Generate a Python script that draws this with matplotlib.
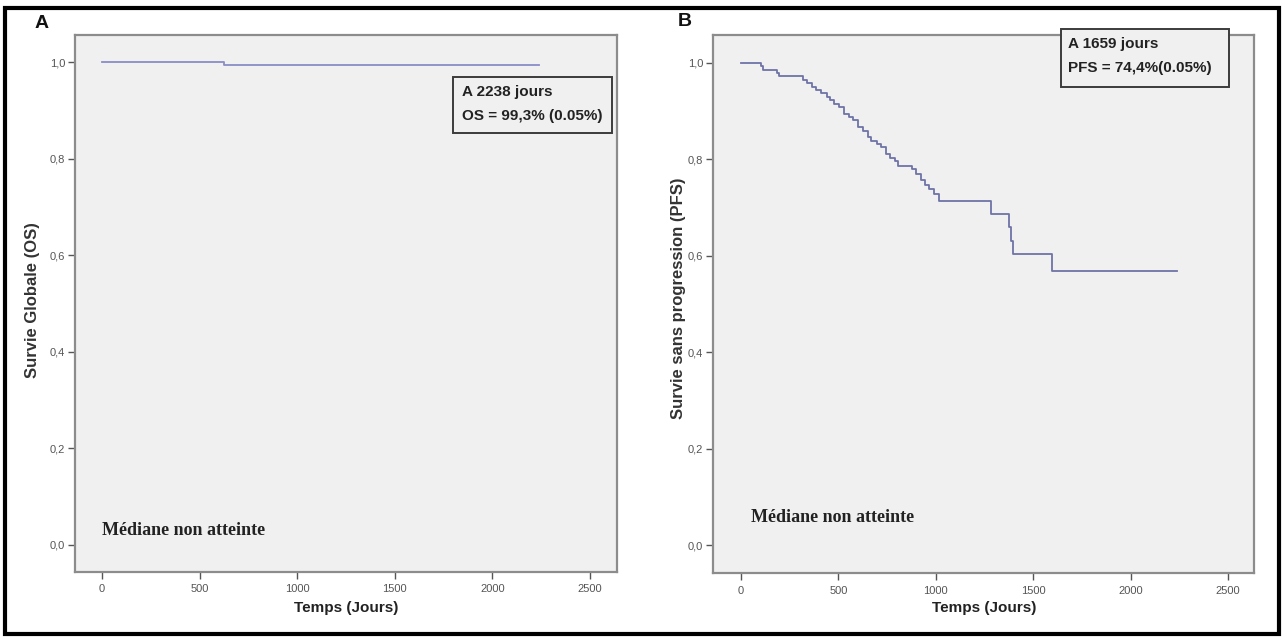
import matplotlib
matplotlib.use('Agg')
import matplotlib.pyplot as plt
from matplotlib.patches import Rectangle
from matplotlib.ticker import FuncFormatter

# Kaplan-Meier survie globale (jours, survie)
os_days = [0, 625, 2238]
os_surv = [1.0, 0.993, 0.993]

# Kaplan-Meier survie sans progression
pfs_days = [0, 105, 115, 185, 195, 320, 340, 365, 385, 410, 440, 455, 480, 505,
            530, 555, 575, 600, 625, 650, 670, 700, 720, 745, 765, 790, 805, 880,
            900, 925, 945, 965, 990, 1015, 1285, 1378, 1386, 1398, 1595, 2240]
pfs_surv = [1.0, 0.993, 0.986, 0.979, 0.972, 0.965, 0.958, 0.951, 0.944, 0.937,
            0.930, 0.923, 0.916, 0.909, 0.895, 0.888, 0.881, 0.867, 0.860, 0.846,
            0.839, 0.832, 0.825, 0.811, 0.804, 0.797, 0.787, 0.780, 0.769, 0.758,
            0.748, 0.738, 0.728, 0.714, 0.687, 0.660, 0.632, 0.604, 0.569, 0.569]

y_ticks = [0.0, 0.2, 0.4, 0.6, 0.8, 1.0]
x_ticks = [0, 500, 1000, 1500, 2000, 2500]

W, H = 1284, 641
NARROW = ['Liberation Sans Narrow', 'Liberation Sans', 'DejaVu Sans']
SANS = ['Liberation Sans', 'DejaVu Sans']
SERIF = ['Liberation Serif', 'DejaVu Serif']

fig = plt.figure(figsize=(W / 100, H / 100), dpi=100)
fig.patch.set_facecolor('white')


def px_axes(l, t, r, b):
    return fig.add_axes([l / W, 1 - b / H, (r - l) / W, (b - t) / H])


def fx(x):
    return x / W


def fy(y):
    return 1 - y / H


def style(ax, xlim, ylim):
    ax.set_facecolor('#f0f0f0')
    for s in ax.spines.values():
        s.set_color('#8c8c8c')
        s.set_linewidth(1.6)
    ax.set_xlim(xlim)
    ax.set_ylim(ylim)
    ax.set_xticks(x_ticks)
    ax.set_yticks(y_ticks)
    ax.yaxis.set_major_formatter(FuncFormatter(lambda v, p: f'{v:.1f}'.replace('.', ',')))
    ax.tick_params(axis='both', length=5, width=1, color='#555555',
                   labelsize=8, labelcolor='#555555')
    ax.tick_params(axis='x', pad=4)
    ax.tick_params(axis='y', pad=2)
    for lab in ax.get_xticklabels() + ax.get_yticklabels():
        lab.set_family(NARROW)


def info_box(l, t, r, b, lines, ys, xt):
    # encadré posé sur la figure, en pixels
    fig.patches.append(Rectangle((fx(l), fy(b)), fx(r) - fx(l), fy(t) - fy(b),
                                 transform=fig.transFigure, facecolor='#f0f0f0',
                                 edgecolor='#3c3c3c', lw=1.4, zorder=4))
    for txt, yy in zip(lines, ys):
        fig.text(fx(xt), fy(yy), txt, family=NARROW, weight='bold',
                 fontsize=11, color='#222222', va='center', ha='left', zorder=5)


# Panneau A : survie globale
axA = px_axes(75, 35, 617, 572)
style(axA, (-138, 2638), (-0.056, 1.056))
axA.step(os_days, os_surv, where='post', color='#8a8dc6', lw=1.3)
axA.text(0.05, 0.078, 'Médiane non atteinte', transform=axA.transAxes,
         family=SERIF, weight='bold', fontsize=13, color='#222222', va='center')

# Panneau B : survie sans progression
axB = px_axes(713, 35, 1254, 573)
style(axB, (-143, 2633), (-0.057, 1.058))
axB.step(pfs_days, pfs_surv, where='post', color='#6f73a6', lw=1.3)
axB.text(0.07, 0.103, 'Médiane non atteinte', transform=axB.transAxes,
         family=SERIF, weight='bold', fontsize=13, color='#222222', va='center')

info_box(453, 77, 612, 133, ['A 2238 jours', 'OS = 99,3% (0.05%)'], [92, 116], 462)
info_box(1061, 29, 1229, 87, ['A 1659 jours', 'PFS = 74,4%(0.05%)'], [44, 68], 1068)

# titres des axes
fig.text(fx(346), fy(608), 'Temps (Jours)', family=NARROW, weight='bold',
         fontsize=11, color='#222222', ha='center', va='center')
fig.text(fx(984), fy(608), 'Temps (Jours)', family=NARROW, weight='bold',
         fontsize=11, color='#222222', ha='center', va='center')
fig.text(fx(33), fy(300), 'Survie Globale (OS)', family=SANS, weight='bold',
         fontsize=12, color='#333333', ha='center', va='center', rotation=90)
fig.text(fx(678), fy(298), 'Survie sans progression (PFS)', family=SANS,
         weight='bold', fontsize=12, color='#333333', ha='center', va='center',
         rotation=90)

# lettres des panneaux
fig.text(fx(42), fy(23), 'A', family=SANS, weight='bold', fontsize=14,
         ha='center', va='center', color='#111111')
fig.text(fx(685), fy(21), 'B', family=SANS, weight='bold', fontsize=14,
         ha='center', va='center', color='#111111')

# cadre extérieur
fig.patches.append(Rectangle((fx(5), fy(634)), fx(1279) - fx(5), fy(8) - fy(634),
                             transform=fig.transFigure, fill=False,
                             edgecolor='black', lw=3))

fig.savefig('out.png', dpi=100, facecolor='white')
